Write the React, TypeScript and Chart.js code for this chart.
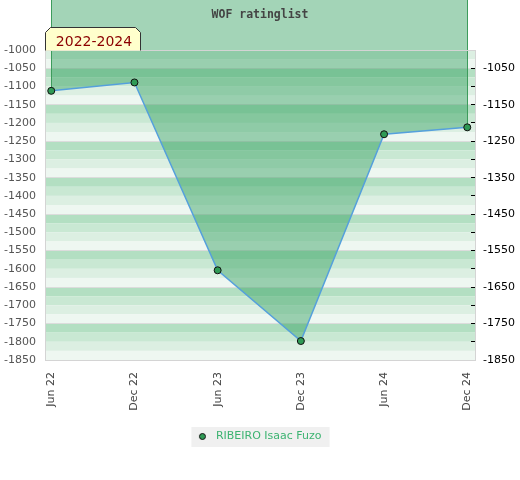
import React, { useEffect, useRef } from "react";
import { Chart, registerables } from "chart.js";

Chart.register(...registerables);

// ---- data ----
const categories = ["Jun 22", "Dec 22", "Jun 23", "Dec 23", "Jun 24", "Dec 24"];
const ratings = [-1112, -1089, -1604, -1798, -1231, -1212];
const leftTicks = [
  -1000, -1050, -1100, -1150, -1200, -1250, -1300, -1350, -1400,
  -1450, -1500, -1550, -1600, -1650, -1700, -1750, -1800, -1850,
];
const rightLabels = [-1050, -1150, -1250, -1350, -1450, -1550, -1650, -1750, -1850];
const seriesName = "RIBEIRO Isaac Fuzo";
const chartTitle = "WOF ratinglist";
const periodLabel = "2022-2024";
const yMin = -1850;
const yMax = -1000;
const fillTo = -800;

const FONT = "DejaVu Sans";
const bandColors = ["#b3dfc2", "#c9e8d3", "#dcefe2", "#eef7f1"];

const decorPlugin = {
  id: "decor",
  beforeDraw(chart: any) {
    const { ctx, chartArea: a, scales } = chart;
    const y = scales.y;
    ctx.save();
    let k = 0;
    for (let v = yMax; v > yMin; v -= 25, k++) {
      const top = y.getPixelForValue(v);
      const bot = y.getPixelForValue(v - 25);
      ctx.fillStyle = bandColors[(k + 2) % 4];
      ctx.fillRect(a.left, top, a.right - a.left, bot - top);
    }
    const lg = chart.legend;
    if (lg && lg.legendHitBoxes && lg.legendHitBoxes[0]) {
      const h = lg.legendHitBoxes[0];
      ctx.fillStyle = "#f0f0f0";
      ctx.fillRect(h.left - 3, h.top - 4, h.width + 11, h.height + 9);
    }
    ctx.restore();
  },
  beforeDatasetsDraw(chart: any) {
    // let the area fill run up to the top of the canvas
    chart.$savedArea = chart.chartArea;
    chart.chartArea = { ...chart.chartArea, top: 0 };
    const y = chart.scales.y;
    chart.$savedYTop = y.top;
    y.top = 0;
  },
  beforeDatasetDraw(chart: any, args: any) {
    const pts = args.meta.data;
    if (!pts || !pts.length) return;
    const ctx = chart.ctx;
    ctx.save();
    ctx.strokeStyle = "#3d9c5c";
    ctx.lineWidth = 1;
    ctx.beginPath();
    for (const p of [pts[0], pts[pts.length - 1]]) {
      const x = Math.round(p.x) + 0.5;
      ctx.moveTo(x, 0);
      ctx.lineTo(x, p.y);
    }
    ctx.stroke();
    ctx.restore();
  },
  afterDatasetsDraw(chart: any) {
    if (chart.$savedArea) chart.chartArea = chart.$savedArea;
    if (chart.$savedYTop !== undefined) chart.scales.y.top = chart.$savedYTop;
    const { ctx } = chart;
    const a = chart.chartArea;
    ctx.save();
    // plot border
    ctx.strokeStyle = "#d4d4d4";
    ctx.lineWidth = 1;
    ctx.strokeRect(a.left + 0.5, a.top + 0.5, a.right - a.left - 1, a.bottom - a.top);
    // title
    ctx.fillStyle = "#444444";
    ctx.font = 'bold 11.5px "DejaVu Sans Mono"';
    ctx.textAlign = "center";
    ctx.textBaseline = "alphabetic";
    ctx.fillText(chartTitle, chart.width / 2, 17.5);
    // period box
    const L = a.left + 0.5;
    const B = a.top + 0.5;
    const W = 95;
    const H = 23;
    const c = 5;
    const outline = () => {
      ctx.beginPath();
      ctx.moveTo(L, B);
      ctx.lineTo(L, B - H + c);
      ctx.lineTo(L + c, B - H);
      ctx.lineTo(L + W - c, B - H);
      ctx.lineTo(L + W, B - H + c);
      ctx.lineTo(L + W, B);
    };
    outline();
    ctx.closePath();
    ctx.fillStyle = "#ffffcc";
    ctx.fill();
    outline();
    ctx.strokeStyle = "#333333";
    ctx.stroke();
    ctx.fillStyle = "#8b0000";
    ctx.font = `14px "${FONT}"`;
    ctx.textAlign = "center";
    ctx.fillText(periodLabel, L + W / 2 + 1, a.top - 4.5);
    ctx.restore();
  },
};

export default function App() {
  const ref = useRef<HTMLCanvasElement | null>(null);

  useEffect(() => {
    document.body.style.margin = "0";
    const marker = document.createElement("canvas");
    marker.width = 9;
    marker.height = 9;
    const mc = marker.getContext("2d")!;
    mc.beginPath();
    mc.arc(4.5, 4.5, 3, 0, Math.PI * 2);
    mc.fillStyle = "#2f9a55";
    mc.fill();
    mc.lineWidth = 1;
    mc.strokeStyle = "#111111";
    mc.stroke();

    const font = { family: FONT, size: 11 };
    const chart = new Chart(ref.current!, {
      type: "line",
      data: {
        datasets: [
          {
            label: seriesName,
            data: ratings.map((v, i) => ({ x: i, y: v })),
            borderColor: "#55a0dc",
            borderWidth: 1.5,
            backgroundColor: "rgba(46,158,90,0.44)",
            fill: { value: fillTo },
            tension: 0,
            pointRadius: 3.5,
            pointBackgroundColor: "#2f9a55",
            pointBorderColor: "#111111",
            pointBorderWidth: 1,
            xAxisID: "x",
            yAxisID: "y",
          },
        ],
      },
      options: {
        animation: false,
        responsive: true,
        maintainAspectRatio: false,
        layout: { padding: { top: 50, bottom: 28, left: 0, right: 4 } },
        plugins: {
          title: { display: false },
          tooltip: { enabled: false },
          legend: {
            position: "bottom",
            labels: {
              usePointStyle: true,
              pointStyle: marker as any,
              pointStyleWidth: 16,
              boxHeight: 6,
              padding: 10,
              color: "#3cb371",
              font,
            },
          },
        },
        scales: {
          x: {
            type: "linear",
            min: -0.075,
            max: 5.105,
            afterBuildTicks: (s: any) => {
              s.ticks = categories.map((_, i) => ({ value: i }));
            },
            afterFit: (s: any) => {
              s.height = 61;
            },
            grid: { display: false, drawTicks: false },
            border: { display: false },
            ticks: {
              autoSkip: false,
              minRotation: 90,
              maxRotation: 90,
              padding: 12,
              color: "#444444",
              font,
              callback: (v: any) => categories[Math.round(Number(v))] ?? "",
            },
          },
          y: {
            type: "linear",
            position: "left",
            min: yMin,
            max: yMax,
            afterBuildTicks: (s: any) => {
              s.ticks = leftTicks.map((v) => ({ value: v }));
            },
            afterFit: (s: any) => {
              s.width = 45;
            },
            grid: { display: false, drawTicks: false },
            border: { display: false },
            ticks: {
              autoSkip: false,
              padding: 9,
              color: "#555555",
              font,
              callback: (v: any) => String(v),
            },
          },
          y1: {
            type: "linear",
            position: "right",
            min: yMin,
            max: yMax,
            afterBuildTicks: (s: any) => {
              s.ticks = leftTicks.map((v) => ({ value: v }));
            },
            afterFit: (s: any) => {
              s.width = 40;
            },
            grid: {
              drawOnChartArea: true,
              drawTicks: true,
              tickLength: -5,
              color: (c: any) =>
                c.tick && rightLabels.includes(c.tick.value) && c.tick.value !== yMin
                  ? "#dcdcdc"
                  : "rgba(0,0,0,0)",
              tickColor: (c: any) =>
                c.tick && c.tick.value !== yMin && c.tick.value !== yMax
                  ? "#000000"
                  : "rgba(0,0,0,0)",
            },
            border: { display: false },
            ticks: {
              autoSkip: false,
              padding: 12,
              color: "#000000",
              font,
              callback: (v: any) => (rightLabels.includes(Number(v)) ? String(v) : ""),
            },
          },
        },
      },
      plugins: [decorPlugin],
    });
    return () => chart.destroy();
  }, []);

  return (
    <div style={{ width: 520, height: 480, position: "relative" }}>
      <canvas ref={ref} />
    </div>
  );
}
